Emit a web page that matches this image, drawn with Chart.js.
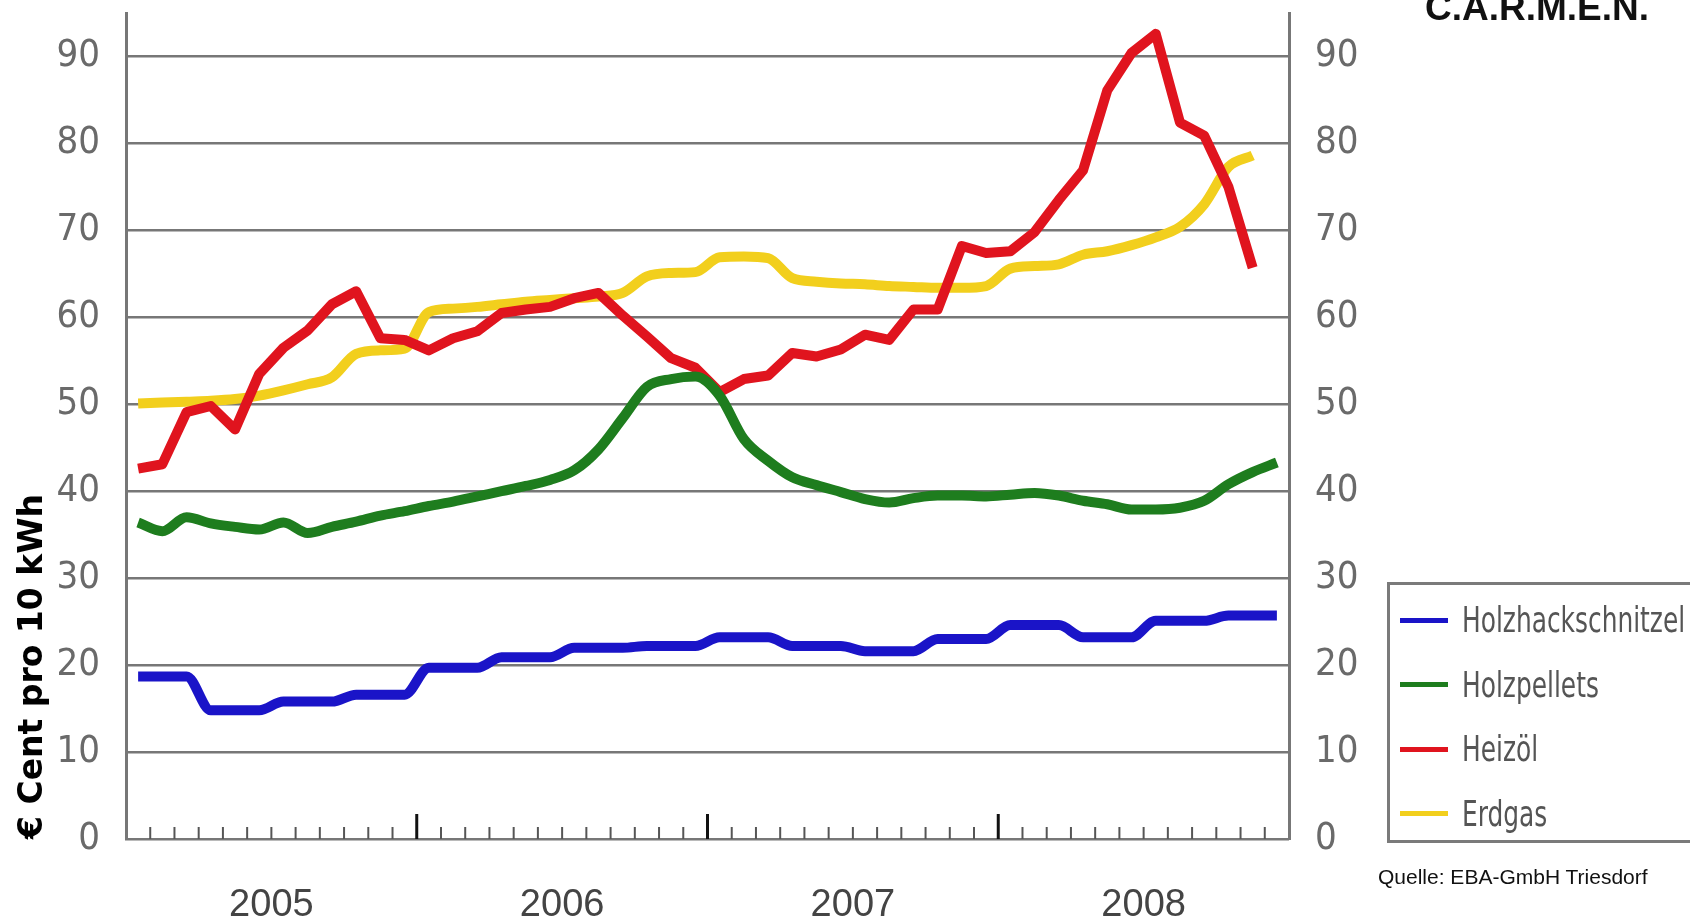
<!DOCTYPE html>
<html>
<head>
<meta charset="utf-8">
<script src="https://cdn.jsdelivr.net/npm/chart.js@4"></script>
<style>
  body { margin: 0; background: #fff; overflow: hidden; }
  #wrap { position: relative; width: 1690px; height: 924px; overflow: hidden; }
  #logo { position: absolute; left: 1425px; top: -13px; font: bold 37px "Liberation Sans", Arial, sans-serif; color: #111; }
  #source { position: absolute; left: 1378px; top: 865px; font: 21px "Liberation Sans", Arial, sans-serif; color: #111; }
  #legend { position: absolute; left: 1387px; top: 582px; width: 340px; height: 255px; border: 3px solid #7a7a7a; }
  .item { position: absolute; left: 10px; height: 40px; display: flex; align-items: center;
          font: 35px "Liberation Sans Narrow", "DejaVu Sans Condensed", sans-serif; color: #555; white-space: nowrap; }
  .swatch { display: inline-block; width: 48px; height: 5px; margin-right: 14px; }
  .name { display: inline-block; transform: scaleX(0.79); transform-origin: left center; }
</style>
</head>
<body>
<div id="wrap">
  <canvas id="chart" width="1690" height="924"></canvas>
  <div id="logo">C.A.R.M.E.N.</div>
  <div id="legend"></div>
  <div id="source">Quelle: EBA-GmbH Triesdorf</div>
</div>
<script>
// categories
const years = ["2005", "2006", "2007", "2008"];
const monthNames = ["Jan", "Feb", "Mär", "Apr", "Mai", "Jun", "Jul", "Aug", "Sep", "Okt", "Nov", "Dez"];
const months = [];
years.forEach((y) => monthNames.forEach((m) => months.push(m + " " + y)));

const yTickValues = [0, 10, 20, 30, 40, 50, 60, 70, 80, 90];

// series, € Cent pro 10 kWh, one value per month
const holzhackschnitzel = [
  18.7, 18.7, 18.7, 14.8, 14.8, 14.8, 15.8, 15.8, 15.8, 16.6, 16.6, 16.6,
  19.7, 19.7, 19.7, 20.9, 20.9, 20.9, 22.0, 22.0, 22.0, 22.2, 22.2, 22.2,
  23.2, 23.2, 23.2, 22.2, 22.2, 22.2, 21.6, 21.6, 21.6, 23.0, 23.0, 23.0,
  24.6, 24.6, 24.6, 23.2, 23.2, 23.2, 25.1, 25.1, 25.1, 25.7, 25.7, 25.7,
];
const holzpellets = [
  36.4, 35.4, 37.0, 36.3, 35.9, 35.6, 36.4, 35.2, 35.9, 36.5, 37.2, 37.7,
  38.3, 38.8, 39.4, 40.0, 40.6, 41.3, 42.4, 44.8, 48.4, 52.0, 52.9, 53.2,
  51.0, 46.0, 43.5, 41.6, 40.7, 39.9, 39.1, 38.7, 39.2, 39.5, 39.5, 39.4,
  39.6, 39.8, 39.5, 38.9, 38.5, 37.9, 37.9, 38.1, 38.9, 40.8, 42.2, 43.3,
];
const heizoel = [
  42.6, 43.1, 49.1, 49.8, 47.1, 53.5, 56.5, 58.5, 61.5, 63.0, 57.6, 57.4,
  56.2, 57.6, 58.4, 60.5, 60.9, 61.2, 62.2, 62.8, 60.2, 57.8, 55.3, 54.2,
  51.4, 52.9, 53.3, 55.9, 55.5, 56.3, 58.0, 57.4, 60.9, 60.9, 68.2, 67.4,
  67.6, 69.8, 73.5, 76.9, 86.1, 90.4, 92.6, 82.4, 80.9, 75.0, 65.7, null,
];
const erdgas = [
  50.1, 50.2, 50.3, 50.4, 50.6, 51.0, 51.6, 52.3, 53.1, 55.8, 56.2, 56.4,
  60.6, 61.0, 61.2, 61.5, 61.8, 62.0, 62.2, 62.4, 62.8, 64.7, 65.1, 65.2,
  66.9, 67.0, 66.8, 64.5, 64.1, 63.9, 63.8, 63.6, 63.5, 63.4, 63.4, 63.6,
  65.6, 65.9, 66.1, 67.2, 67.6, 68.3, 69.2, 70.4, 73.0, 77.3, 78.6, null,
];

const tickFont = { family: "'Liberation Sans Narrow', 'DejaVu Sans Condensed', sans-serif", size: 38 };

function line(label, data, color, smooth) {
  return {
    label: label,
    data: data,
    borderColor: color,
    backgroundColor: color,
    borderWidth: 10,
    borderJoinStyle: "round",
    pointRadius: 0,
    cubicInterpolationMode: smooth ? "monotone" : "default",
    tension: 0,
    xAxisID: "x",
    yAxisID: "y",
  };
}

// month tick marks pointing up from the bottom axis, longer at year changes
const monthTicks = {
  id: "monthTicks",
  afterDatasetsDraw(chart) {
    const x = chart.scales.x;
    const bottom = chart.chartArea.bottom;
    const ctx = chart.ctx;
    ctx.save();
    for (let i = 1; i < months.length; i++) {
      const px = (x.getPixelForValue(i - 1) + x.getPixelForValue(i)) / 2;
      const major = i % 12 === 0;
      ctx.beginPath();
      ctx.strokeStyle = major ? "#111" : "#555";
      ctx.lineWidth = major ? 3 : 2;
      ctx.moveTo(px, bottom);
      ctx.lineTo(px, bottom - (major ? 25 : 12));
      ctx.stroke();
    }
    ctx.restore();
  },
};

function noPad(scale) {
  scale.paddingTop = 0;
  scale.paddingBottom = 0;
}

const chart = new Chart(document.getElementById("chart"), {
  type: "line",
  data: {
    labels: months,
    datasets: [
      line("Holzhackschnitzel", holzhackschnitzel, "#1a14c8", true),
      line("Holzpellets", holzpellets, "#1e7d1e", true),
      line("Heizöl", heizoel, "#e0141e", false),
      line("Erdgas", erdgas, "#f2cf1d", true),
    ],
  },
  options: {
    responsive: false,
    animation: false,
    layout: { padding: { top: 13, left: 0, right: 0, bottom: 0 } },
    plugins: { legend: { display: false }, tooltip: { enabled: false } },
    scales: {
      x: {
        type: "category",
        offset: true,
        position: "bottom",
        grid: { display: false },
        border: { display: false },
        ticks: { display: false },
        afterFit: (scale) => { scale.height = 0; scale.paddingLeft = 0; scale.paddingRight = 0; },
      },
      x2: {
        type: "category",
        labels: years,
        offset: true,
        position: "bottom",
        grid: { display: false },
        border: { display: false },
        ticks: { color: "#444", font: { family: "'Liberation Sans', Arial, sans-serif", size: 38 }, padding: 36, maxRotation: 0 },
        afterFit: (scale) => { scale.height = 85; scale.paddingLeft = 0; scale.paddingRight = 0; },
      },
      y: {
        position: "left",
        min: 0,
        max: 95,
        afterBuildTicks: (scale) => { scale.ticks = yTickValues.map((v) => ({ value: v })); },
        grid: { color: "#777", lineWidth: 2.5, drawTicks: false },
        border: { display: true, color: "#777", width: 3 },
        ticks: { color: "#6a6a6a", font: tickFont, padding: 26 },
        title: {
          display: true,
          text: "€ Cent pro 10 kWh",
          align: "start",
          color: "#000",
          font: { family: "'DejaVu Sans', sans-serif", size: 33, weight: "bold" },
          padding: { top: 14, bottom: 0 },
        },
        afterFit: (scale) => { scale.width = 126; noPad(scale); },
      },
      y2: {
        position: "right",
        min: 0,
        max: 95,
        afterBuildTicks: (scale) => { scale.ticks = yTickValues.map((v) => ({ value: v })); },
        grid: { display: false, drawTicks: false },
        border: { display: true, color: "#777", width: 3 },
        ticks: { color: "#6a6a6a", font: tickFont, padding: 26 },
        afterFit: (scale) => { scale.width = 401; noPad(scale); },
      },
    },
  },
  plugins: [monthTicks],
});

// legend box built from the datasets
const legend = document.getElementById("legend");
chart.data.datasets.forEach((ds, i) => {
  const item = document.createElement("div");
  item.className = "item";
  item.style.top = 15 + i * 64.5 + "px";
  item.innerHTML = `<span class="swatch" style="background:${ds.borderColor}"></span><span class="name">${ds.label}</span>`;
  legend.appendChild(item);
});
</script>
</body>
</html>
